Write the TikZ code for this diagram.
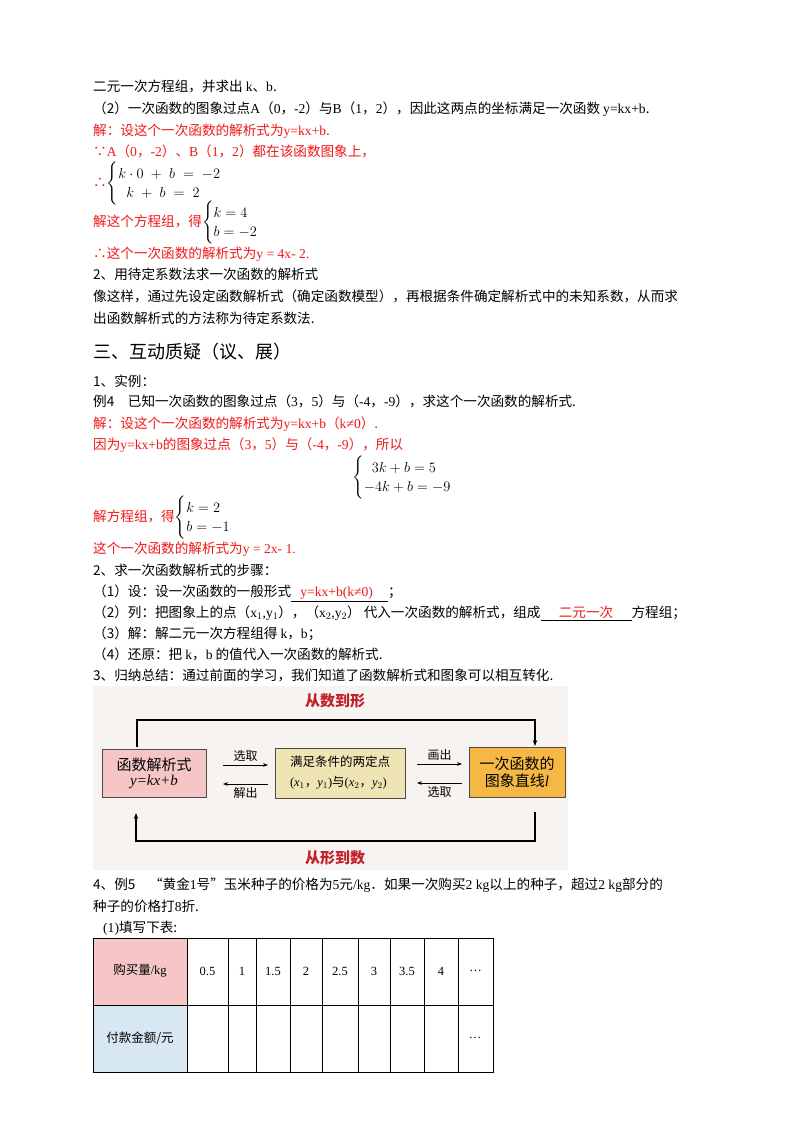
\documentclass[tikz,border=0pt]{standalone}
\usepackage{amsmath}
\usepackage{fontspec}
\usetikzlibrary{arrows.meta}
\setmainfont{Noto Sans CJK SC}
\newfontfamily\tms{Liberation Serif}
\definecolor{rd}{HTML}{F01818}
\definecolor{dred}{HTML}{C0202A}
\definecolor{pinkf}{HTML}{F6C6C6}
\definecolor{tanf}{HTML}{EEE4B4}
\definecolor{orf}{HTML}{F5B845}
\definecolor{bgf}{HTML}{F6F3F1}
\definecolor{bluef}{HTML}{D8E8F2}
\begin{document}
\begin{tikzpicture}[x=1pt,y=-1pt,
  t/.style={anchor=base west,inner sep=0pt,font=\fontsize{13.6}{15}\selectfont},
  r/.style={t,text=rd},
  bx/.style={draw=black!70,line width=0.8pt,inner sep=0pt},
  ar/.style={-{Stealth[length=5pt]},line width=0.8pt},
  ln/.style={line width=1.6pt}]
\useasboundingbox (0,0) rectangle (800,1132);
\fill[white] (0,0) rectangle (800,1132);
\node[t] (l1) at (93,92) {二元一次方程组，并求出 {\tms k}、{\tms b}.};
\node[t] (l2) at (93,113) {（2）一次函数的图象过点{\tms A}（{\tms 0}，{\tms -2}）与{\tms B}（{\tms 1}，{\tms 2}），因此这两点的坐标满足一次函数 {\tms y=kx+b}.};
\node[r] (l3) at (93,135) {解：设这个一次函数的解析式为{\tms y=kx+b}.};
\node[r] (l4) at (93,156) {∵{\tms A}（{\tms 0}，{\tms -2}）、{\tms B}（{\tms 1}，{\tms 2}）都在该函数图象上，};
\node[r,anchor=west] (l5) at (93,184) {∴\textcolor{black}{\fontsize{14}{16}\selectfont$\begin{cases} k\cdot 0 \;+\; b \;=\; -2\\ \;\;k \;+\; b \;=\; 2\end{cases}$}};
\node[r,anchor=west] (l6) at (93,223) {解这个方程组，得\textcolor{black}{\fontsize{14}{16}\selectfont$\begin{cases} k=4\\ b=-2\end{cases}$}};
\node[r] (l7) at (93,258) {∴这个一次函数的解析式为{\tms y = 4x- 2.}};
\node[t] (l8) at (93,279) {2、用待定系数法求一次函数的解析式};
\node[t] (l9) at (93,301) {像这样，通过先设定函数解析式（确定函数模型），再根据条件确定解析式中的未知系数，从而求};
\node[t] (l10) at (93,323) {出函数解析式的方法称为待定系数法.};
\node[t,font=\fontsize{18}{20}\selectfont] (h3) at (93,358) {三、互动质疑（议、展）};
\node[t] (l11) at (93,386) {1、实例：};
\node[t] (l12) at (93,406) {例4\quad 已知一次函数的图象过点（{\tms 3}，{\tms 5}）与（{\tms -4}，{\tms -9}），求这个一次函数的解析式.};
\node[r] (l13) at (93,428) {解：设这个一次函数的解析式为{\tms y=kx+b}（{\tms k≠0}）.};
\node[r] (l14) at (93,449) {因为{\tms y=kx+b}的图象过点（{\tms 3}，{\tms 5}）与（{\tms -4}，{\tms -9}），所以};
\node[t,anchor=west] (l15) at (352,478) {\fontsize{14}{16}\selectfont$\begin{cases} \;\;3k+b=5\\ -4k+b=-9\end{cases}$};
\node[r,anchor=west] (l16) at (93,518) {解方程组，得\textcolor{black}{\fontsize{14}{16}\selectfont$\begin{cases} k=2\\ b=-1\end{cases}$}};
\node[r] (l17) at (93,553) {这个一次函数的解析式为{\tms y = 2x- 1.}};
\node[t] (l18) at (93,575) {2、求一次函数解析式的步骤：};
\node[t] (l19) at (93,596) {（1）设：设一次函数的一般形式\underline{\ \ \ \textcolor{rd}{\tms y=kx+b(k≠0)}\ \ \ \ \ }；};
\node[t] (l20) at (93,617) {（2）列：把图象上的点（{\tms x$_1$,y$_1$}），（{\tms x$_2$,y$_2$}）\ 代入一次函数的解析式，组成\underline{\ \ \ \ \ \ \textcolor{rd}{二元一次}\ \ \ \ \ \ }方程组；};
\node[t] (l21) at (93,638) {（3）解：解二元一次方程组得 {\tms k}，{\tms b}；};
\node[t] (l22) at (93,659) {（4）还原：把 {\tms k}，{\tms b} 的值代入一次函数的解析式.};
\node[t] (l23) at (93,680) {3、归纳总结：通过前面的学习，我们知道了函数解析式和图象可以相互转化.};
% diagram
\fill[bgf] (93,686) rectangle (568,870);
\node[font=\bfseries\fontsize{15}{17}\selectfont,text=dred] (tt) at (335,701) {从数到形};
\node[font=\bfseries\fontsize{15}{17}\selectfont,text=dred] (tb) at (335,858) {从形到数};
\node[bx,fill=pinkf,minimum width=104pt,minimum height=48pt,align=center,font=\fontsize{15}{17}\selectfont] (A) at (154,773) {函数解析式\\[-2pt]{\tms\itshape y=kx+b}};
\node[bx,fill=tanf,minimum width=130pt,minimum height=50pt,align=left,font=\fontsize{12.5}{18}\selectfont] (B) at (340,773) {满足条件的两定点\\[2pt]{\tms(\textit{x}$_1$}，{\tms\textit{y}$_1$)}与{\tms(\textit{x}$_2$}，{\tms\textit{y}$_2$)}};
\node[bx,fill=orf,minimum width=96pt,minimum height=50pt,align=center,font=\fontsize{15}{17}\selectfont] (C) at (517,772) {一次函数的\\图象直线{\tms\itshape l}};
\coordinate (p1) at (137,747); \coordinate (p2) at (137,720); \coordinate (p3) at (535,720); \coordinate (p4) at (535,746);
\draw[ln,-{Stealth[length=6pt]}] (p1) -- (p2) -- (p3) -- (p4);
\coordinate (q1) at (535,812); \coordinate (q2) at (535,841); \coordinate (q3) at (136,841); \coordinate (q4) at (136,813);
\draw[ln,-{Stealth[length=6pt]}] (q1) -- (q2) -- (q3) -- (q4);
\coordinate (a1) at (223,765); \coordinate (a2) at (268,765);
\draw[ar] (a1) -- node[above,font=\fontsize{12}{14}\selectfont] {选取} (a2);
\coordinate (b1) at (268,784); \coordinate (b2) at (223,784);
\draw[ar] (b1) -- node[below,font=\fontsize{12}{14}\selectfont] {解出} (b2);
\coordinate (c1) at (417,764); \coordinate (c2) at (462,764);
\draw[ar] (c1) -- node[above,font=\fontsize{12}{14}\selectfont] {画出} (c2);
\coordinate (d1) at (462,783); \coordinate (d2) at (417,783);
\draw[ar] (d1) -- node[below,font=\fontsize{12}{14}\selectfont] {选取} (d2);
% example 5
\node[t] (l24) at (93,889) {4、例5\quad “黄金{\tms 1}号”玉米种子的价格为{\tms 5}元{\tms /kg}．如果一次购买{\tms 2 kg}以上的种子，超过{\tms 2 kg}部分的};
\node[t] (l25) at (93,911) {种子的价格打{\tms 8}折.};
\node[t] (l26) at (103,932) {{\tms(1)}填写下表:};
\fill[pinkf] (93,938) rectangle (187,1005);
\fill[bluef] (93,1005) rectangle (187,1072);
\draw[line width=0.8pt] (93,938) rectangle (493,1072);
\draw[line width=0.6pt] (93,1005) -- (493,1005);
\foreach \x in {187,228,256,290,322,358,390,424,458} \draw[line width=0.6pt] (\x,938) -- (\x,1072);
\node[font=\fontsize{12.5}{14}\selectfont] (h1) at (140,971) {购买量{\tms/kg}};
\node[font=\fontsize{12.5}{14}\selectfont] (h2) at (140,1038) {付款金额/元};
\foreach \a/\b/\v in {187/228/0.5,228/256/1,256/290/1.5,290/322/2,322/358/2.5,358/390/3,390/424/3.5,424/458/4,458/493/…}
  \node[font=\tms\fontsize{12.5}{14}\selectfont] at ({(\a+\b)/2},971) {\v};
\node[font=\tms\fontsize{12.5}{14}\selectfont] (dd) at (475,1038) {…};
\end{tikzpicture}
\end{document}
